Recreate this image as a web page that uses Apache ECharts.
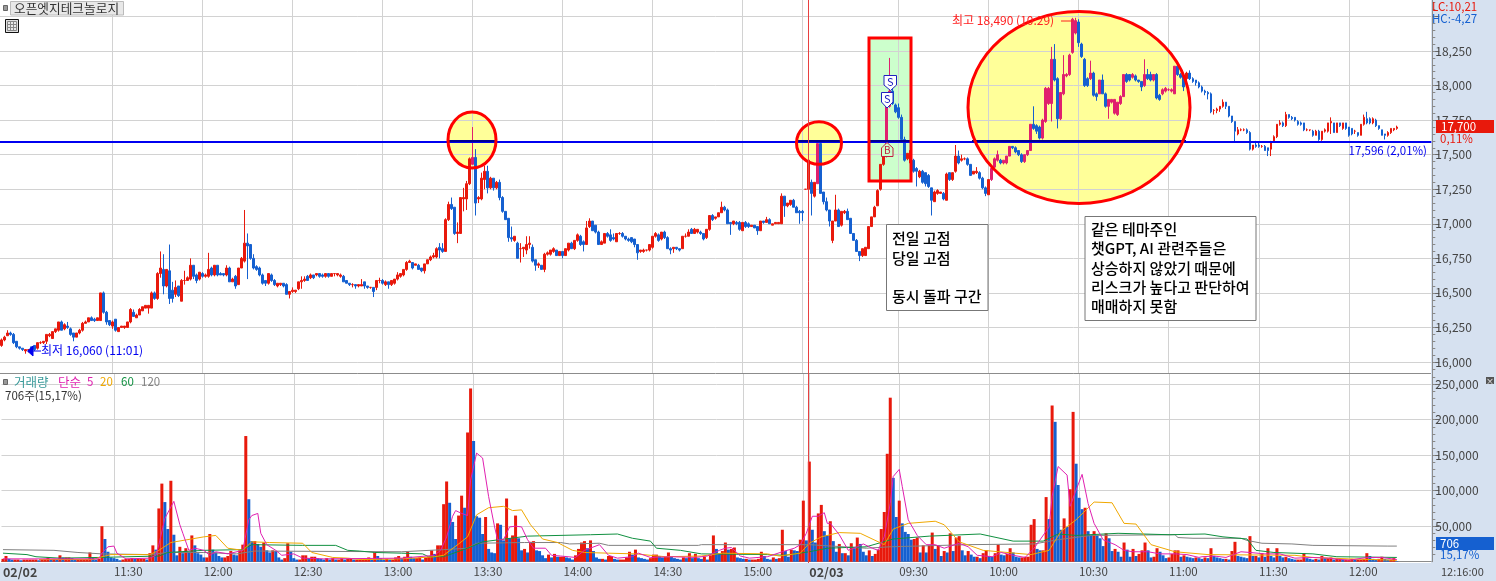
<!DOCTYPE html>
<html>
<head>
<meta charset="utf-8">
<style>html,body{margin:0;padding:0;background:#fff}#main{width:1496px;height:581px}</style>
<script src="https://cdn.jsdelivr.net/npm/echarts@6/dist/echarts.min.js"></script>
</head>
<body>
<div id="main"></div>
<script>
// 1분봉 [시가, 종가, 저가, 고가]
const candlesDay1 = [
[16120,16160,16110,16170],[16160,16180,16150,16190],[16190,16210,16190,16230],[16210,16200,16190,16220],[16200,16140,16130,16210],[16150,16110,16100,16150],[16110,16100,16090,16110],[16100,16090,16080,16100],[16080,16090,16060,16090],[16090,16090,16070,16090],
[16110,16080,16070,16110],[16120,16090,16080,16120],[16100,16140,16090,16140],[16140,16140,16130,16150],[16140,16150,16130,16150],[16150,16200,16130,16200],[16190,16200,16180,16210],[16170,16220,16170,16220],[16220,16240,16210,16240],[16230,16290,16220,16290],
[16290,16230,16230,16300],[16240,16270,16230,16280],[16260,16250,16240,16290],[16240,16200,16190,16250],[16210,16180,16150,16210],[16180,16210,16180,16210],[16210,16230,16200,16240],[16230,16280,16220,16290],[16280,16290,16280,16300],[16290,16320,16290,16320],
[16320,16300,16300,16330],[16310,16300,16290,16320],[16300,16320,16300,16320],[16300,16500,16300,16500],[16500,16360,16350,16510],[16360,16290,16270,16370],[16300,16270,16260,16300],[16260,16290,16240,16300],[16310,16230,16220,16310],[16220,16250,16220,16250],
[16250,16260,16250,16260],[16250,16260,16240,16260],[16250,16290,16250,16290],[16290,16380,16280,16390],[16360,16330,16330,16380],[16320,16340,16320,16350],[16340,16380,16340,16390],[16370,16400,16370,16400],[16390,16410,16390,16410],[16390,16410,16350,16410],
[16390,16500,16390,16510],[16500,16460,16450,16510],[16460,16640,16450,16650],[16640,16680,16610,16800],[16670,16550,16490,16780],[16550,16670,16540,16670],[16660,16460,16420,16850],[16520,16460,16430,16580],[16490,16540,16470,16590],[16550,16480,16470,16550],
[16440,16590,16440,16600],[16590,16590,16560,16660],[16590,16610,16590,16620],[16600,16700,16590,16750],[16700,16620,16600,16700],[16630,16590,16570,16640],[16600,16650,16590,16650],[16640,16620,16610,16650],[16620,16630,16610,16640],[16620,16670,16610,16790],
[16680,16630,16620,16690],[16630,16700,16620,16700],[16700,16630,16620,16700],[16640,16630,16630,16650],[16640,16630,16620,16640],[16630,16680,16620,16700],[16680,16580,16580,16690],[16580,16600,16580,16610],[16620,16550,16530,16630],[16560,16680,16560,16680],
[16680,16750,16680,16760],[16730,16860,16720,17100],[16860,16840,16600,16930],[16850,16750,16740,16850],[16750,16680,16670,16780],[16690,16670,16660,16700],[16680,16630,16620,16690],[16630,16570,16560,16640],[16590,16570,16550,16590],[16570,16640,16560,16640],
[16630,16590,16580,16640],[16590,16560,16550,16600],[16550,16570,16540,16570],[16560,16570,16550,16570],[16570,16550,16540,16570],[16560,16490,16490,16570],[16490,16510,16460,16510],[16510,16520,16500,16540],[16510,16520,16500,16520],[16530,16580,16520,16580],
[16580,16590,16530,16620],[16590,16600,16580,16620],[16620,16590,16590,16630],[16610,16630,16600,16640],[16630,16610,16600,16630],[16630,16640,16620,16640],[16640,16620,16610,16640],[16630,16620,16610,16640],[16620,16640,16610,16640],[16640,16620,16610,16640],
[16620,16640,16620,16640],[16640,16640,16620,16640],[16630,16640,16620,16640],[16620,16630,16610,16640],[16620,16580,16580,16630],[16590,16570,16570,16590],[16570,16560,16550,16570],[16560,16560,16540,16570],[16560,16550,16530,16560],[16550,16560,16540,16560],
[16550,16560,16550,16600],[16580,16550,16530,16580],[16550,16540,16530,16550],[16540,16540,16530,16540],[16540,16510,16470,16540],[16540,16590,16520,16590],[16590,16590,16570,16610],[16590,16570,16560,16600],[16560,16580,16550,16590],[16580,16560,16530,16580],
[16560,16590,16550,16590],[16570,16600,16560,16600],[16600,16630,16590,16650],[16620,16640,16610,16640],[16630,16670,16620,16670],[16670,16720,16660,16730],[16720,16730,16720,16740],[16720,16680,16670,16720],[16700,16710,16700,16710],[16700,16670,16670,16710],
[16680,16660,16650,16680],[16660,16710,16640,16710],[16710,16740,16710,16740],[16740,16760,16730,16770],[16760,16770,16750,16790],[16760,16820,16750,16830],[16830,16810,16750,16860],[16820,16800,16790,16860],[16800,17030,16800,17040],[17030,17140,17020,17160],
[17140,17110,17100,17190],[17120,16930,16920,17120],[16930,16940,16860,17010],[16930,17190,16930,17190],[17180,17190,17090,17260],[17180,17290,17100,17310],[17290,17470,17280,17480],[17430,17480,17430,17700],[17480,17150,17060,17540],[17180,17190,17150,17200],
[17180,17330,17170,17370],[17320,17380,17250,17420],[17380,17260,17220,17420],[17260,17330,17250,17340],[17330,17260,17240,17330],[17260,17300,17250,17310],[17300,17190,17170,17320],[17190,17090,17080,17200],[17090,17030,17030,17090],[17040,16900,16870,17040],
[16900,16890,16870,16980],[16880,16910,16870,16910],[16860,16750,16750,16870],[16820,16820,16720,16860],[16820,16830,16760,16830],[16810,16850,16780,16910],[16850,16860,16820,16910],[16830,16730,16720,16850],[16740,16700,16660,16740],[16700,16710,16680,16720],
[16700,16670,16670,16700],[16670,16780,16650,16790],[16780,16790,16770,16800],[16780,16810,16770,16810],[16800,16820,16790,16830],[16810,16770,16770,16810],[16770,16800,16770,16800],[16800,16770,16750,16800],[16770,16820,16770,16820],[16810,16860,16800,16860],
[16860,16820,16820,16870],[16820,16880,16810,16880],[16880,16920,16870,16930],[16910,16850,16840,16920],[16870,16850,16800,16880],[16850,16970,16850,17020],[16980,17020,16970,17040],[17020,16950,16950,17020],[16990,16940,16930,16990],[16940,16850,16850,16950],
[16850,16870,16850,16880],[16860,16930,16860,16930],[16930,16910,16900,16940],[16920,16880,16870,16960],[16900,16890,16880,16930],[16870,16930,16870,16930],[16930,16930,16920,16940],[16930,16910,16900,16940],[16910,16890,16880,16910],[16890,16880,16870,16900],
[16900,16870,16860,16900],[16890,16850,16830,16890],[16850,16790,16740,16850],[16800,16810,16790,16810],[16800,16810,16790,16820],[16810,16810,16800,16810],[16810,16850,16800,16850],[16830,16910,16820,16910],[16910,16930,16900,16940],[16920,16880,16870,16930],
[16890,16940,16880,16940],[16940,16900,16890,16950],[16900,16820,16820,16910],[16820,16810,16780,16830],[16820,16830,16790,16830],[16830,16820,16810,16830],[16820,16810,16800,16820],[16820,16910,16820,16910],[16910,16910,16900,16930],[16910,16940,16910,16960],
[16960,16930,16930,16970],[16930,16960,16930,16970],[16940,16960,16930,16960],[16940,16930,16920,16950],[16930,16890,16880,16930],[16900,16960,16890,16960],[16960,17060,16950,17060],[17060,17030,17020,17070],[17040,17050,17030,17050],[17050,17080,17050,17080],
[17080,17120,17080,17160],[17120,17100,17090,17130],[17100,17000,17000,17110],[17010,17000,16920,17010],[17000,17020,16990,17020],[17010,17000,16990,17020],[17010,16960,16950,17020],[16950,17010,16950,17010],[17010,16980,16970,17020],[17000,16980,16970,17010],
[16980,16990,16980,16990],[16990,16970,16970,16990],[16980,16950,16920,16980],[16950,17020,16950,17020],[17020,17010,17000,17020],[17010,17030,17010,17050],[17030,17000,17000,17040],[16990,17000,16990,17000],[17000,17010,17000,17010],[17000,17010,17000,17010],
[17000,17200,17000,17220],[17200,17130,17050,17200],[17130,17150,17120,17150],[17140,17170,17130,17170],[17170,17120,17120,17180],[17120,17080,17080,17130],[17090,17080,17000,17100],[17090,17080,17020,17100],[17250,17250,17250,17250]
]
const candlesDay2 = [
[17250,17460,17250,17500],[17300,17220,17060,17320],[17200,17300,17190,17300],[17290,17580,17290,17580],[17580,17220,17220,17590],[17230,17160,17140,17230],[17160,17100,17090,17190],[17100,17020,16980,17100],[16880,17020,16860,17020],[17020,17100,17020,17210],
[17100,16980,16980,17110],[16990,17090,16980,17090],[17080,17090,17070,17100],[17090,17030,17030,17110],[17040,16930,16930,17040],[16930,16880,16880,16930],[16880,16800,16800,16890],[16800,16770,16730,16800],[16770,16820,16760,16820],[16770,16830,16770,16830],
[16820,16980,16820,16980],[16980,17050,16980,17050],[17050,17120,17050,17130],[17130,17240,17130,17250],[17250,17430,17240,17430],[17430,17500,17420,17500],[17500,17850,17480,17850],[17850,17960,17840,18200],[17960,17870,17860,17990],[17860,17810,17800,17870],
[17840,17770,17760,17870],[17770,17610,17600,17790],[17610,17460,17450,17630],[17470,17510,17460,17510],[17440,17530,17430,17540],[17460,17380,17370,17470],[17400,17380,17270,17410],[17340,17380,17330,17390],[17380,17300,17290,17390],[17370,17290,17270,17370],
[17350,17270,17260,17360],[17260,17170,17060,17260],[17160,17230,17160,17240],[17220,17240,17210,17250],[17220,17230,17220,17230],[17220,17180,17170,17230],[17170,17360,17170,17370],[17370,17320,17310,17370],[17320,17370,17310,17370],[17380,17490,17370,17570],
[17490,17440,17430,17530],[17460,17470,17450,17500],[17470,17470,17460,17480],[17470,17430,17420,17480],[17430,17350,17350,17430],[17360,17380,17360,17380],[17370,17380,17360,17410],[17370,17330,17320,17380],[17330,17260,17250,17340],[17260,17220,17200,17270],
[17210,17320,17210,17320],[17320,17400,17310,17410],[17410,17470,17400,17480],[17460,17500,17450,17530],[17460,17440,17430,17470],[17440,17460,17430,17460],[17440,17490,17430,17490],[17490,17560,17490,17560],[17560,17550,17540,17560],[17550,17520,17510,17560],
[17530,17500,17490,17530],[17500,17450,17440,17510],[17450,17500,17440,17500],[17500,17530,17490,17530],[17530,17720,17530,17720],[17720,17690,17680,17850],[17710,17670,17650,17720],[17700,17620,17610,17710],[17620,17750,17610,17760],[17740,17980,17730,17990],
[17870,17980,17860,17990],[17870,18190,17740,18280],[18190,18040,18030,18300],[18050,17760,17690,18060],[17760,17950,17750,17950],[17940,18080,17930,18220],[18070,18080,18060,18090],[18080,18220,18070,18230],[18240,18480,18230,18490],[18380,18470,18370,18490],
[18460,18310,18280,18480],[18300,18210,18200,18310],[18190,18000,17990,18200],[18050,18000,17990,18060],[18050,18090,18040,18180],[18090,17930,17920,18100],[17940,17920,17890,17950],[17940,18040,17940,18040],[18040,17940,17940,18080],[17940,17850,17840,17950],
[17850,17900,17760,17900],[17880,17900,17870,17900],[17800,17900,17790,17900],[17790,17880,17780,17880],[17870,17920,17860,17930],[17920,18080,17920,18080],[18080,18030,18020,18090],[18080,18040,18030,18080],[18060,18080,18050,18090],[18070,18040,18030,18080],
[18040,18030,18020,18040],[18030,17990,17960,18030],[18000,18080,17990,18190],[18080,18050,18040,18120],[18080,18040,18030,18100],[18040,18080,18030,18080],[18080,17910,17900,18090],[17930,17900,17890,17940],[17940,17970,17930,17980],[17960,17980,17950,17990],
[17970,17970,17960,17980],[17960,17970,17950,17980],[17940,18140,17940,18140],[18140,18080,18070,18150],[18080,18060,18050,18090],[18070,17990,17960,18080],[18050,18090,18040,18100],[18090,18050,18040,18110],[18050,18030,18020,18060],[18040,18020,18000,18040],
[18020,17990,17980,18030],[17990,17960,17950,18000],[17960,17950,17930,17970],[17950,17940,17900,17960],[17940,17810,17800,17950],[17820,17820,17790,17830],[17820,17830,17800,17840],[17830,17850,17810,17850],[17850,17880,17840,17900],[17880,17850,17830,17880],
[17850,17780,17770,17850],[17780,17740,17730,17780],[17740,17670,17590,17740],[17650,17680,17640,17700],[17680,17680,17670,17690],[17680,17680,17670,17690],[17680,17660,17650,17690],[17660,17540,17530,17670],[17540,17570,17530,17570],[17570,17560,17550,17600],
[17570,17560,17550,17590],[17560,17560,17550,17570],[17560,17530,17530,17570],[17550,17530,17490,17550],[17540,17590,17490,17600],[17600,17630,17590,17640],[17630,17720,17620,17720],[17720,17730,17710,17750],[17730,17710,17700,17740],[17710,17790,17700,17810],
[17790,17770,17760,17790],[17770,17760,17750,17780],[17770,17750,17740,17770],[17740,17720,17710,17750],[17730,17720,17710,17740],[17730,17680,17670,17730],[17680,17680,17670,17690],[17680,17680,17670,17680],[17670,17640,17630,17680],[17640,17670,17640,17680],
[17670,17610,17600,17680],[17610,17670,17600,17670],[17670,17680,17660,17690],[17670,17730,17660,17730],[17730,17740,17650,17770],[17730,17660,17660,17730],[17660,17730,17660,17730],[17730,17710,17700,17730],[17690,17730,17680,17730],[17730,17690,17680,17730],
[17700,17640,17630,17700],[17690,17650,17640,17690],[17670,17670,17650,17680],[17660,17640,17630,17660],[17640,17720,17640,17720],[17720,17770,17710,17790],[17760,17730,17720,17810],[17760,17730,17720,17770],[17730,17760,17720,17770],[17750,17710,17700,17760],
[17710,17690,17680,17710],[17680,17640,17640,17680],[17650,17640,17610,17650],[17640,17660,17630,17670],[17660,17690,17650,17690],[17680,17690,17670,17690],[17690,17700,17680,17710]
]
const volumesDay1 = [
4000,8000,4000,3000,3000,3000,2000,3000,3000,3000,
3000,3000,2000,3000,4000,6000,3000,4000,3000,9000,
6000,6000,6000,5000,3000,3000,3000,3000,4000,13000,
6000,3000,4000,50000,32000,14000,6000,5000,4000,2000,
3000,4000,4000,5000,4000,4000,4000,4000,3000,12000,
23000,17000,75000,110000,84000,46000,114000,38000,9000,21000,
12000,19000,14000,37000,23000,12000,10000,6000,6000,39000,
17000,13000,8000,6000,6000,8000,15000,10000,9000,16000,
24000,177000,88000,29000,29000,25000,21000,27000,16000,13000,
16000,15000,6000,3000,5000,26000,14000,5000,3000,3000,
9000,9000,5000,7000,7000,5000,4000,3000,5000,3000,
5000,3000,3000,5000,3000,4000,5000,3000,3000,3000,
3000,3000,6000,3000,13000,8000,5000,3000,4000,3000,
3000,6000,8000,5000,7000,14000,7000,5000,5000,6000,
3000,6000,7000,16000,11000,23000,23000,81000,113000,83000,
56000,32000,65000,93000,76000,182000,244000,170000,64000,62000,
39000,63000,18000,13000,12000,54000,52000,30000,89000,33000,
37000,65000,33000,16000,18000,13000,28000,29000,16000,15000,
9000,5000,10000,6000,11000,7000,7000,7000,6000,5000,
3000,9000,18000,27000,29000,19000,30000,15000,6000,4000,
4000,3000,8000,8000,4000,3000,3000,3000,6000,14000,
10000,17000,6000,5000,4000,3000,5000,10000,10000,8000,
6000,7000,13000,7000,5000,4000,3000,6000,5000,12000,
5000,11000,5000,4000,7000,3000,9000,37000,18000,12000,
15000,27000,17000,18000,20000,6000,5000,4000,4000,3000,
3000,3000,4000,14000,8000,4000,3000,6000,4000,5000,
45000,15000,7000,17000,16000,15000,31000,86000,30000
]
const volumesDay2 = [
141000,45000,27000,68000,80000,43000,37000,57000,29000,14000,
25000,12000,12000,9000,26000,19000,34000,25000,14000,9000,
16000,8000,11000,17000,46000,70000,152000,231000,118000,63000,
86000,54000,42000,39000,31000,32000,34000,13000,23000,13000,
23000,41000,18000,23000,8000,15000,13000,40000,15000,34000,
36000,16000,9000,15000,10000,7000,7000,5000,12000,16000,
8000,7000,12000,24000,10000,9000,11000,19000,13000,7000,
6000,6000,7000,7000,52000,60000,18000,16000,16000,91000,
60000,220000,197000,108000,45000,61000,49000,102000,211000,138000,
90000,74000,76000,43000,38000,43000,37000,33000,22000,40000,
33000,15000,18000,14000,7000,27000,17000,7000,18000,8000,
11000,16000,27000,16000,6000,7000,19000,14000,9000,5000,
6000,11000,16000,16000,7000,9000,7000,6000,5000,6000,
5000,4000,6000,5000,19000,8000,6000,5000,4000,4000,
3000,15000,28000,8000,7000,6000,5000,36000,8000,8000,
6000,12000,7000,19000,8000,6000,19000,8000,6000,7000,
5000,4000,3000,3000,3000,12000,5000,4000,3000,4000,
3000,8000,5000,5000,6000,3000,4000,4000,3000,3000,
3000,4000,3000,3000,3000,4000,12000,8000,4000,3000,
4000,7000,4000,3000,3000,5000,706
]
// 이동평균선 꺾임점 [봉 번호, 거래량]
const ma5 = [[0,4000],[32,4000],[33,12000],[35,21000],[37,22000],[38,12000],[41,4000],[49,5000],[51,9000],[52,24000],[54,61000],[57,85000],[59,52000],[60,40000],[62,16000],[64,19000],[67,16000],[69,9000],[71,14000],[75,11000],[80,16000],[82,59000],[83,65000],[85,68000],[86,40000],[88,24000],[91,16000],[93,9000],[97,11000],[100,5000],[107,4000],[133,5000],[144,9000],[146,16000],[148,35000],[150,64000],[151,72000],[153,68000],[155,65000],[156,115000],[158,153000],[160,146000],[162,92000],[164,49000],[165,31000],[167,31000],[169,49000],[171,50000],[173,49000],[175,31000],[177,19000],[181,19000],[183,9000],[186,8000],[191,6000],[194,16000],[199,24000],[202,9000],[205,5000],[210,7000],[212,12000],[216,6000],[223,7000],[231,6000],[235,8000],[239,16000],[241,19000],[243,20000],[246,8000],[249,5000],[255,7000],[260,14000],[264,19000],[266,24000],[268,40000],[270,64000],[272,64000],[274,69000],[275,54000],[276,54000],[279,38000],[282,16000],[285,21000],[287,25000],[290,19000],[292,16000],[294,35000],[296,82000],[297,120000],[299,130000],[300,106000],[302,59000],[305,37000],[308,24000],[311,24000],[314,19000],[319,26000],[322,21000],[325,9000],[330,7000],[333,13000],[337,9000],[341,6000],[344,19000],[349,49000],[350,92000],[352,134000],[355,122000],[356,78000],[358,101000],[360,123000],[362,82000],[364,54000],[367,31000],[371,24000],[374,16000],[377,14000],[382,14000],[386,11000],[391,11000],[395,10000],[399,6000],[400,7000],[404,8000],[408,6000],[413,14000],[416,13000],[421,11000],[426,11000],[431,5000],[437,6000],[442,5000],[449,2000],[455,6000],[460,6000],[465,3000]]
const ma20 = [[12,3000],[30,3000],[33,7000],[36,10000],[49,10000],[52,16000],[56,27000],[67,35000],[71,37000],[75,19000],[80,16000],[83,28000],[89,27000],[100,26000],[103,13000],[110,6000],[115,5000],[120,3000],[133,4000],[144,7000],[147,9000],[152,25000],[155,35000],[158,66000],[162,76000],[167,78000],[170,72000],[173,73000],[176,52000],[180,32000],[185,27000],[190,16000],[194,13000],[202,12000],[211,11000],[221,7000],[233,8000],[240,12000],[255,11000],[259,8000],[266,12000],[269,26000],[273,35000],[279,41000],[286,40000],[294,24000],[297,46000],[302,54000],[311,57000],[314,52000],[319,28000],[327,16000],[343,10000],[349,16000],[353,43000],[358,59000],[364,84000],[370,83000],[374,54000],[378,53000],[383,24000],[391,14000],[402,10000],[431,9000],[437,6000],[449,4000],[465,2000]]
const ma60 = [[0,12000],[8,10000],[11,7000],[19,5000],[32,6000],[37,6500],[52,8000],[55,13000],[67,16000],[80,17000],[83,24000],[100,23000],[111,23000],[115,16000],[119,15000],[124,13000],[133,12000],[140,11000],[142,7000],[147,7000],[155,19000],[160,28000],[175,36000],[196,38000],[205,39000],[210,33000],[216,29000],[218,19000],[226,16000],[233,11000],[255,10000],[261,9000],[269,14000],[275,19000],[288,21000],[297,32000],[309,36000],[326,39000],[337,29000],[347,29000],[352,39000],[358,37000],[372,40000],[389,38000],[401,39000],[407,35000],[415,32000],[418,16000],[424,13000],[437,11000],[445,7000],[465,6000]]
const ma120 = [[0,17000],[17,16000],[25,13000],[33,11000],[49,10000],[55,13000],[67,13000],[78,11000],[84,15000],[133,14000],[147,17000],[155,19000],[158,26000],[174,27000],[186,27000],[189,25000],[199,26000],[202,23000],[232,23000],[233,24000],[269,24000],[288,19000],[296,21000],[322,24000],[344,25000],[352,31000],[363,37000],[391,38000],[392,34000],[397,33000],[413,33000],[415,30000],[420,26000],[430,25000],[437,23000],[462,22000],[465,22000]]

const priceTicks = [16000,16250,16500,16750,17000,17250,17500,17750,18000,18250,18500]
const priceLabels = [16000,16250,16500,16750,17000,17250,17500,17750,18000,18250]
const volumeTicks = [50000,100000,150000,200000,250000]
// 시간축 라벨 (봉 번호 -> 글자)
const timeLabels = {0:'02/02',37:'11:30',67:'12:00',97:'12:30',127:'13:00',157:'13:30',187:'14:00',217:'14:30',247:'15:00',269:'02/03',299:'09:30',329:'10:00',359:'10:30',389:'11:00',419:'11:30',449:'12:00'}
const timeGrid = [37,67,97,127,157,187,217,247,267,269,299,329,359,389,419,449]
const highlightRanges = [[157,157],[272,272],[295,296],[330,391]]

const RED = '#e8190c', BLUE = '#1560d0', PINK = '#e0206e'
const GRID_LINE = '#d2d2d2', AXIS_LINE = '#8c8c8c', PANEL = '#d6e1f0'
const FONT = '"Noto Sans CJK KR", sans-serif'
const SLOT_COUNT = 477

const candles = candlesDay1.concat(candlesDay2)
const volumes = volumesDay1.concat(volumesDay2)
const categories = []
for (let i = 0; i < SLOT_COUNT; i++) categories.push(String(i))

const isHighlighted = i => highlightRanges.some(r => i >= r[0] && i <= r[1])
const candleData = candles.map((c, i) => {
  if (isHighlighted(i) && c[1] >= c[0]) {
    return { value: c, itemStyle: { color: PINK, borderColor: PINK } }
  }
  return c
})
// 거래량 막대 색: 직전 봉보다 늘면 빨강, 줄면 파랑
const volumeData = volumes.map((v, i) => ({
  value: v,
  itemStyle: { color: i === 0 || v >= volumes[i - 1] ? RED : BLUE }
}))

const minorPrice = []
for (let v = 15950; v <= 18600; v += 50) minorPrice.push(v)
const minorVolume = []
for (let v = 10000; v <= 260000; v += 10000) minorVolume.push(v)

const isGridSlot = idx => timeGrid.indexOf(idx) >= 0
const lineSeries = (name, data, color) => ({
  name, type: 'line', xAxisIndex: 1, yAxisIndex: 2, data, showSymbol: false, silent: true,
  lineStyle: { color, width: 1 }, z: 3
})
const text = (t, x, y, fill, size, extra) => ({
  type: 'text', z: 20, silent: true,
  style: Object.assign({ text: t, x, y, fill, font: `${size || 12}px ${FONT}`, verticalAlign: 'middle' }, extra)
})
const note = (t, x, y) => text(t, x, y, '#000', 15, { font: `500 15px ${FONT}` })
const ellipseFill = (cx, cy, rx, ry) => ({ type: 'ellipse', z: -1, silent: true, shape: { cx, cy, rx, ry }, style: { fill: '#ffff99' } })
const ellipseRing = (cx, cy, rx, ry) => ({ type: 'ellipse', z: 10, silent: true, shape: { cx, cy, rx, ry }, style: { fill: null, stroke: '#ff0000', lineWidth: 3 } })
const noteBox = (x, y, width, height) => ({ type: 'rect', z: 19, silent: true, shape: { x, y, width, height }, style: { fill: '#fff', stroke: '#777', lineWidth: 1 } })
const flag = (points, stroke, fill) => ({ type: 'polygon', z: 18, silent: true, shape: { points }, style: { fill, stroke, lineWidth: 1 } })
const darkLine = (x1, x2) => ({ type: 'line', z: 6, silent: true, shape: { x1, y1: 141, x2, y2: 141 }, style: { stroke: '#000090', lineWidth: 2 } })
const iconLine = (x1, y1, x2, y2) => ({ type: 'line', z: 21, silent: true, shape: { x1, y1, x2, y2 }, style: { stroke: '#888', lineWidth: 1 } })

const graphicElements = [
  // 배경 패널
  { type: 'rect', z: -2, silent: true, shape: { x: 1431, y: 0, width: 65, height: 581 }, style: { fill: PANEL } },
  { type: 'rect', z: -2, silent: true, shape: { x: 0, y: 563, width: 1496, height: 18 }, style: { fill: PANEL } },
  { type: 'line', z: 1, silent: true, shape: { x1: 0, y1: 373.5, x2: 1431, y2: 373.5 }, style: { stroke: AXIS_LINE, lineWidth: 1 } },
  // 표시 영역
  ellipseFill(472, 140, 24, 28), ellipseFill(819, 143, 22.5, 21.3), ellipseFill(1079, 107.5, 111, 96),
  { type: 'rect', z: -1, silent: true, shape: { x: 869, y: 38, width: 42, height: 143 }, style: { fill: '#ccffcc' } },
  darkLine(449, 495), darkLine(798, 840), darkLine(870, 910), darkLine(972, 1186),
  ellipseRing(472, 140, 24, 28), ellipseRing(819, 143, 22.5, 21.3), ellipseRing(1079, 107.5, 111, 96),
  { type: 'rect', z: 10, silent: true, shape: { x: 869, y: 38, width: 42, height: 143 }, style: { fill: null, stroke: '#ff0000', lineWidth: 3 } },
  { type: 'line', z: 11, silent: true, shape: { x1: 808.5, y1: 0, x2: 808.5, y2: 563 }, style: { stroke: '#e84040', lineWidth: 1 } },
  // 매매 표시
  flag([[884, 75.5], [896.5, 75.5], [896.5, 85], [890.5, 90.5], [884, 85]], '#2020c0', '#ffffff'),
  text('S', 890.3, 82, '#2020c0', 11, { align: 'center' }),
  flag([[881.5, 92.5], [893, 92.5], [893, 102], [887, 108], [881.5, 102]], '#2020c0', '#ffffff'),
  text('S', 887.2, 99, '#2020c0', 11, { align: 'center' }),
  flag([[881.5, 148], [887, 142.5], [893, 148], [893, 156.5], [881.5, 156.5]], '#c02040', '#ccffcc'),
  text('B', 887.2, 150.5, '#c02040', 10, { align: 'center' }),
  // 설명 상자
  noteBox(886.5, 224.5, 101.5, 86),
  note('전일 고점', 892, 238), note('당일 고점', 892, 258), note('동시 돌파 구간', 892, 296),
  noteBox(1085, 216.5, 171, 104),
  note('같은 테마주인', 1091, 229), note('챗GPT, AI 관련주들은', 1091, 248),
  note('상승하지 않았기 때문에', 1091, 268), note('리스크가 높다고 판단하여', 1091, 287), note('매매하지 못함', 1091, 306),
  // 최고, 최저
  text('최고 18,490 (10:29)', 952, 20, '#ff2020', 12),
  { type: 'line', z: 20, silent: true, shape: { x1: 1061, y1: 21, x2: 1073, y2: 21 }, style: { stroke: '#ff2020', lineWidth: 1 } },
  text('최저 16,060 (11:01)', 41, 350, '#0000f0', 12),
  { type: 'line', z: 20, silent: true, shape: { x1: 31, y1: 351, x2: 41, y2: 351 }, style: { stroke: '#0000f0', lineWidth: 1 } },
  flag([[27.5, 351], [33, 346], [33, 356]], '#0000f0', '#0000f0'),
  text('17,596 (2,01%)', 1427, 151, '#0000f0', 11.5, { align: 'right' }),
  // 왼쪽 위 종목명
  { type: 'rect', z: 20, silent: true, shape: { x: 3.5, y: 5.5, width: 4, height: 5 }, style: { fill: '#999', stroke: '#666' } },
  { type: 'rect', z: 20, silent: true, shape: { x: 10.5, y: 1.5, width: 113, height: 13.5 }, style: { fill: '#e8e8e8', stroke: '#bbb' } },
  text('오픈엣지테크놀로지', 14, 8.5, '#333', 12.7),
  { type: 'rect', z: 20, silent: true, shape: { x: 5.5, y: 19.5, width: 13, height: 13 }, style: { fill: '#e0e0e0', stroke: '#111' } },
  { type: 'rect', z: 20, silent: true, shape: { x: 7.5, y: 21.5, width: 9, height: 9 }, style: { fill: '#e8e8e8', stroke: '#888' } },
  iconLine(10.5, 21.5, 10.5, 30.5), iconLine(13.5, 21.5, 13.5, 30.5), iconLine(7.5, 24.5, 16.5, 24.5), iconLine(7.5, 27.5, 16.5, 27.5),
  // 오른쪽 위
  text('LC:10,21', 1432, 7, '#e8190c', 11.5), text('HC:-4,27', 1432, 19, '#1560d0', 11.5),
  // 가격, 거래량 꼬리표
  { type: 'rect', z: 20, silent: true, shape: { x: 1436, y: 120, width: 58, height: 13 }, style: { fill: RED } },
  text('17,700', 1441, 126.5, '#fff', 11.5), text('0,11%', 1440, 138.5, '#e8190c', 11.5),
  { type: 'rect', z: 20, silent: true, shape: { x: 1436, y: 537, width: 58, height: 13 }, style: { fill: BLUE } },
  text('706', 1440, 543.5, '#fff', 11.5), text('15,17%', 1440, 555, '#1560d0', 11.5),
  { type: 'rect', z: 20, silent: true, shape: { x: 1486, y: 377, width: 8, height: 7 }, style: { fill: '#555' } },
  text('×', 1490, 380.5, '#fff', 8, { align: 'center' }),
  // 거래량 범례
  { type: 'rect', z: 20, silent: true, shape: { x: 3.5, y: 379.5, width: 4, height: 5 }, style: { fill: '#999', stroke: '#666' } },
  text('거래량', 14, 382, '#3a9a9a', 12.5), text('단순', 58, 382, '#e020b0', 12.5), text('5', 87, 382, '#e020b0', 11.5),
  text('20', 100, 382, '#f0a800', 11.5), text('60', 121, 382, '#109040', 11.5), text('120', 141, 382, '#808080', 11.5),
  text('706주(15,17%)', 5, 396, '#333', 11.5),
  text('12:16:00', 1441, 571.5, '#444', 11)
]

const option = {
  backgroundColor: '#fff',
  animation: false,
  graphic: { elements: graphicElements },
  grid: [
    { left: -1, top: 0, width: 1432.3, height: 373.5 },
    { left: -1, top: 374, width: 1432.3, height: 187.7 }
  ],
  xAxis: [
    {
      type: 'category', gridIndex: 0, data: categories, boundaryGap: true,
      axisLine: { show: false }, axisTick: { show: false }, axisLabel: { show: false },
      splitLine: { show: true, alignWithLabel: true, interval: idx => isGridSlot(idx), lineStyle: { color: GRID_LINE, width: 1 } }
    },
    {
      type: 'category', gridIndex: 1, data: categories, boundaryGap: true, offset: 1,
      axisLine: { lineStyle: { color: AXIS_LINE, width: 1 } },
      axisTick: { alignWithLabel: true, length: 18, interval: idx => isGridSlot(idx), lineStyle: { color: AXIS_LINE } },
      axisLabel: {
        margin: 3, align: 'left', hideOverlap: false, color: '#444', fontFamily: FONT, fontSize: 11.5,
        interval: idx => timeLabels[idx] !== undefined,
        formatter: (v, idx) => {
          const t = timeLabels[idx] || ''
          return t.indexOf('/') > 0 ? `{date|${t}}` : t
        },
        rich: { date: { fontWeight: 'bold', fontSize: 12.5, color: '#444', fontFamily: FONT } }
      },
      splitLine: { show: true, alignWithLabel: true, interval: idx => isGridSlot(idx), lineStyle: { color: GRID_LINE, width: 1 } }
    }
  ],
  yAxis: [
    {
      type: 'value', gridIndex: 0, position: 'right', offset: 1, min: 15917, max: 18619, scale: true,
      axisLine: { show: true, lineStyle: { color: AXIS_LINE } },
      axisTick: { show: true, length: 7, customValues: priceTicks, lineStyle: { color: '#666' } },
      axisLabel: { margin: 3, color: '#444', fontFamily: FONT, fontSize: 12, customValues: priceLabels, formatter: v => v.toLocaleString('en-US') },
      splitLine: { show: true, lineStyle: { color: GRID_LINE, width: 1 } }
    },
    {
      type: 'value', gridIndex: 0, position: 'right', offset: 1, min: 15917, max: 18619, scale: true,
      axisLine: { show: false }, axisLabel: { show: false }, splitLine: { show: false },
      axisTick: { show: true, length: 3, customValues: minorPrice, lineStyle: { color: '#888' } }
    },
    {
      type: 'value', gridIndex: 1, position: 'right', offset: 1, min: 0, max: 264366,
      axisLine: { show: true, lineStyle: { color: AXIS_LINE } },
      axisTick: { show: true, length: 7, customValues: volumeTicks, lineStyle: { color: '#666' } },
      axisLabel: { margin: 3, color: '#444', fontFamily: FONT, fontSize: 12, customValues: volumeTicks, formatter: v => v.toLocaleString('en-US') },
      splitLine: { show: true, lineStyle: { color: GRID_LINE, width: 1 } }
    },
    {
      type: 'value', gridIndex: 1, position: 'right', offset: 1, min: 0, max: 264366,
      axisLine: { show: false }, axisLabel: { show: false }, splitLine: { show: false },
      axisTick: { show: true, length: 3, customValues: minorVolume, lineStyle: { color: '#888' } }
    }
  ],
  series: [
    {
      name: '가격', type: 'candlestick', xAxisIndex: 0, yAxisIndex: 0, data: candleData, barWidth: 2, silent: true, z: 4,
      itemStyle: { color: RED, color0: BLUE, borderColor: RED, borderColor0: BLUE, borderWidth: 1 },
      markLine: {
        silent: true, symbol: 'none', label: { show: false }, z: 5,
        lineStyle: { color: '#0000f0', width: 2, type: 'solid' },
        data: [{ yAxis: 17596 }]
      }
    },
    { name: '거래량', type: 'bar', xAxisIndex: 1, yAxisIndex: 2, data: volumeData, barWidth: 3, silent: true, z: 2 },
    lineSeries('120', ma120, '#808080'),
    lineSeries('60', ma60, '#109040'),
    lineSeries('20', ma20, '#f0a800'),
    lineSeries('5', ma5, '#e020b0')
  ]
}

const chart = echarts.init(document.getElementById('main'))
chart.setOption(option)
</script>
</body>
</html>
